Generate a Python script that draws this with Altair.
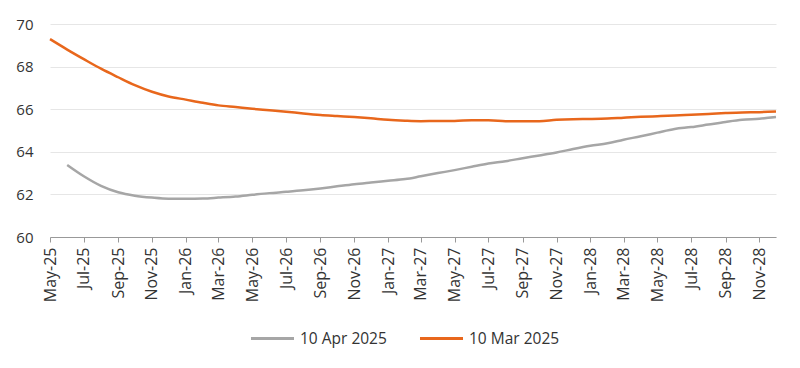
import altair as alt
import pandas as pd

months = pd.date_range("2025-05-01", "2028-12-01", freq="MS")

mar_2025 = [69.29, 68.8, 68.35, 67.9, 67.5, 67.13, 66.82, 66.6, 66.45, 66.3,
            66.18, 66.1, 66.02, 65.95, 65.88, 65.8, 65.73, 65.68, 65.63, 65.57,
            65.5, 65.46, 65.44, 65.45, 65.45, 65.48, 65.48, 65.44, 65.43, 65.44,
            65.5, 65.53, 65.54, 65.56, 65.6, 65.64, 65.67, 65.7, 65.74, 65.78,
            65.82, 65.85, 65.86, 65.89]

apr_2025 = [None, 63.38, 62.85, 62.4, 62.1, 61.94, 61.85, 61.8, 61.8, 61.81,
            61.85, 61.9, 61.98, 62.06, 62.12, 62.19, 62.28, 62.38, 62.48, 62.56,
            62.64, 62.72, 62.85, 63.0, 63.14, 63.3, 63.45, 63.56, 63.7, 63.83,
            63.97, 64.13, 64.28, 64.4, 64.57, 64.73, 64.9, 65.07, 65.16, 65.28,
            65.4, 65.5, 65.55, 65.63]

series_names = ["10 Apr 2025", "10 Mar 2025"]
series_colors = ["#a6a6a6", "#e8671c"]

rows = []
for d, a, m in zip(months, apr_2025, mar_2025):
    if a is not None:
        rows.append({"date": d, "series": series_names[0], "value": a})
    rows.append({"date": d, "series": series_names[1], "value": m})
df = pd.DataFrame(rows)

tick_dates = [d.strftime("%Y-%m-%d") for d in months[::2]]
font = "Open Sans"

chart = alt.Chart(df).mark_line(strokeWidth=2.5, interpolate="monotone").encode(
    x=alt.X("date:T",
            scale=alt.Scale(domain=["2025-05-01", "2028-12-01"]),
            axis=alt.Axis(values=tick_dates, format="%b-%y", labelAngle=270,
                          title=None, grid=False, domainColor="#999999",
                          tickColor="#999999", tickSize=5, labelPadding=5,
                          labelAlign="right", labelBaseline="middle",
                          labelFontSize=16, labelColor="#333333", labelFont=font)),
    y=alt.Y("value:Q",
            scale=alt.Scale(domain=[60, 70], nice=False, zero=False),
            axis=alt.Axis(values=[60, 62, 64, 66, 68, 70], title=None, domain=False,
                          ticks=False, gridColor="#e6e6e6", labelPadding=17,
                          labelFontSize=15, labelColor="#333333", labelFont=font)),
    color=alt.Color("series:N",
                    scale=alt.Scale(domain=series_names, range=series_colors),
                    legend=alt.Legend(title=None, orient="none", direction="horizontal",
                                      legendX=199, legendY=291,
                                      symbolType="stroke", symbolSize=1850,
                                      symbolStrokeWidth=3, labelFontSize=15.5,
                                      labelColor="#333333", labelFont=font,
                                      columnPadding=26, labelOffset=4)),
).properties(
    width=726, height=213,
    autosize=alt.AutoSizeParams(type="none"),
    padding={"left": 42, "top": 16, "right": 16, "bottom": 130},
).configure_view(stroke=None)

chart.save("out.html", embed_options={"renderer": "svg", "actions": False})
